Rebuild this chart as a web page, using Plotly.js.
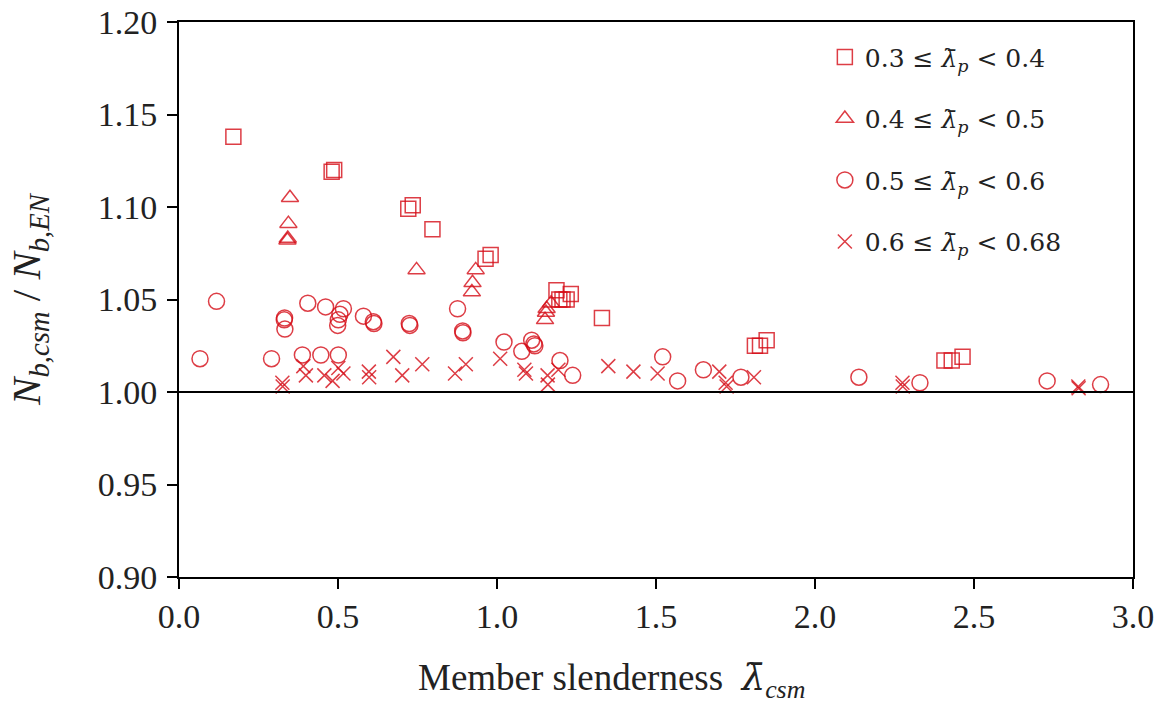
<!DOCTYPE html>
<html>
<head>
<meta charset="utf-8">
<script src="https://cdn.plot.ly/plotly-3.0.1.min.js"></script>
<style>html,body{margin:0;padding:0;background:#fff;}#chart{width:1163px;height:704px;}</style>
</head>
<body>
<div id="chart"></div>
<script>
// Group 0.3 <= lambda_p < 0.4 (squares)
const sqX = [0.171,0.480,0.488,0.721,0.735,0.797,0.964,0.980,1.187,1.196,1.206,1.219,1.232,1.330,1.811,1.827,1.848,2.407,2.430,2.464];
const sqY = [1.138,1.119,1.120,1.099,1.101,1.088,1.072,1.074,1.055,1.050,1.050,1.050,1.053,1.040,1.025,1.025,1.028,1.017,1.017,1.019];
// Group 0.4 <= lambda_p < 0.5 (triangles)
const trX = [0.349,0.344,0.341,0.342,0.747,0.933,0.923,0.921,1.151,1.154,1.156,1.170];
const trY = [1.105,1.091,1.082,1.083,1.066,1.066,1.059,1.054,1.039,1.043,1.045,1.048];
// Group 0.5 <= lambda_p < 0.6 (circles)
const ciX = [0.066,0.118,0.291,0.331,0.332,0.333,0.388,0.405,0.446,0.461,0.499,0.501,0.501,0.506,0.517,0.580,0.611,0.613,0.724,0.726,0.876,0.892,0.893,1.022,1.078,1.109,1.116,1.119,1.198,1.238,1.521,1.568,1.649,1.767,2.138,2.330,2.730,2.898];
const ciY = [1.018,1.049,1.018,1.039,1.040,1.034,1.020,1.048,1.020,1.046,1.036,1.039,1.020,1.042,1.045,1.041,1.038,1.037,1.037,1.036,1.045,1.033,1.032,1.027,1.022,1.028,1.026,1.025,1.017,1.009,1.019,1.006,1.012,1.008,1.008,1.005,1.006,1.004];
// Group 0.6 <= lambda_p < 0.68 (crosses)
const crX = [0.325,0.326,0.391,0.399,0.457,0.483,0.501,0.517,0.597,0.598,0.674,0.702,0.765,0.868,0.902,1.010,1.086,1.091,1.159,1.160,1.193,1.350,1.429,1.505,1.699,1.719,1.722,1.808,2.275,2.276,2.828,2.829];
const crY = [1.005,1.003,1.014,1.009,1.009,1.006,1.013,1.010,1.011,1.008,1.019,1.009,1.015,1.010,1.015,1.018,1.012,1.010,1.009,1.004,1.012,1.014,1.011,1.010,1.011,1.005,1.003,1.008,1.005,1.003,1.003,1.002];

const groupNames = [
  "0.3 ≤ <i>λ̄</i><sub><i>p</i></sub> &lt; 0.4",
  "0.4 ≤ <i>λ̄</i><sub><i>p</i></sub> &lt; 0.5",
  "0.5 ≤ <i>λ̄</i><sub><i>p</i></sub> &lt; 0.6",
  "0.6 ≤ <i>λ̄</i><sub><i>p</i></sub> &lt; 0.68"
];
const xTicks = [0,0.5,1.0,1.5,2.0,2.5,3.0];
const yTicks = [0.90,0.95,1.00,1.05,1.10,1.15,1.20];
const xTitle = "Member slenderness  <span style=\"font-family:'DejaVu Serif'\"><i>λ̄</i></span><sub><i>csm</i></sub>";
const yTitle = "<i>N</i><sub><i>b,csm</i></sub> / <i>N</i><sub><i>b,EN</i></sub>";

const red = "rgba(212,12,22,0.8)";
function tr(x, y, name, symbol, size, g) {
  return {
    x: x, y: y, name: name, type: "scatter", mode: "markers",
    legendgroup: g,
    marker: {symbol: symbol, size: size, color: red, line: {color: red, width: 1.5}}
  };
}
const data = [
  tr(sqX, sqY, groupNames[0], "square-open", 15, "a"),
  tr(trX, trY, groupNames[1], "triangle-up-open", 15, "b"),
  tr(ciX, ciY, groupNames[2], "circle-open", 16, "c"),
  tr(crX, crY, groupNames[3], "x-thin-open", 14, "d")
];

const serif = "Liberation Serif, Times New Roman, serif";
const axisFont = {family: serif, size: 34, color: "#222"};
const layout = {
  width: 1163, height: 704,
  margin: {l: 179, r: 30, t: 22, b: 127},
  paper_bgcolor: "#fff", plot_bgcolor: "#fff",
  showlegend: true,
  legend: {
    x: 0.677, y: 0.978, xanchor: "left", yanchor: "top",
    bgcolor: "rgba(0,0,0,0)", borderwidth: 0,
    font: {family: "DejaVu Serif, serif", size: 25, color: "#222"},
    tracegroupgap: 26, traceorder: "grouped"
  },
  xaxis: {
    range: [0, 3.0], tickvals: xTicks, ticktext: xTicks.map(v => v.toFixed(1)),
    showgrid: false, zeroline: false, showline: true, mirror: true,
    linecolor: "#000", linewidth: 2, ticks: "outside", ticklen: 10, tickwidth: 2, tickcolor: "#000",
    ticklabelstandoff: -2,
    tickfont: axisFont
  },
  yaxis: {
    range: [0.90, 1.20], tickvals: yTicks, ticktext: yTicks.map(v => v.toFixed(2)),
    showgrid: false, zeroline: false, showline: true, mirror: true,
    linecolor: "#000", linewidth: 2, ticks: "outside", ticklen: 10, tickwidth: 2, tickcolor: "#000",
    ticklabelstandoff: 3,
    tickfont: axisFont,
    title: {text: yTitle, font: {family: serif, size: 41, color: "#222"}, standoff: 44}
  },
  annotations: [{
    text: xTitle, xref: "paper", yref: "paper", x: 0.453, y: -0.185,
    xanchor: "center", yanchor: "middle", showarrow: false,
    font: {family: serif, size: 37, color: "#222"}
  }],
  shapes: [{type: "line", xref: "paper", x0: 0, x1: 1, yref: "y", y0: 1.0, y1: 1.0, line: {color: "#000", width: 2}}]
};
Plotly.newPlot("chart", data, layout, {displayModeBar: false, staticPlot: true});
</script>
</body>
</html>
